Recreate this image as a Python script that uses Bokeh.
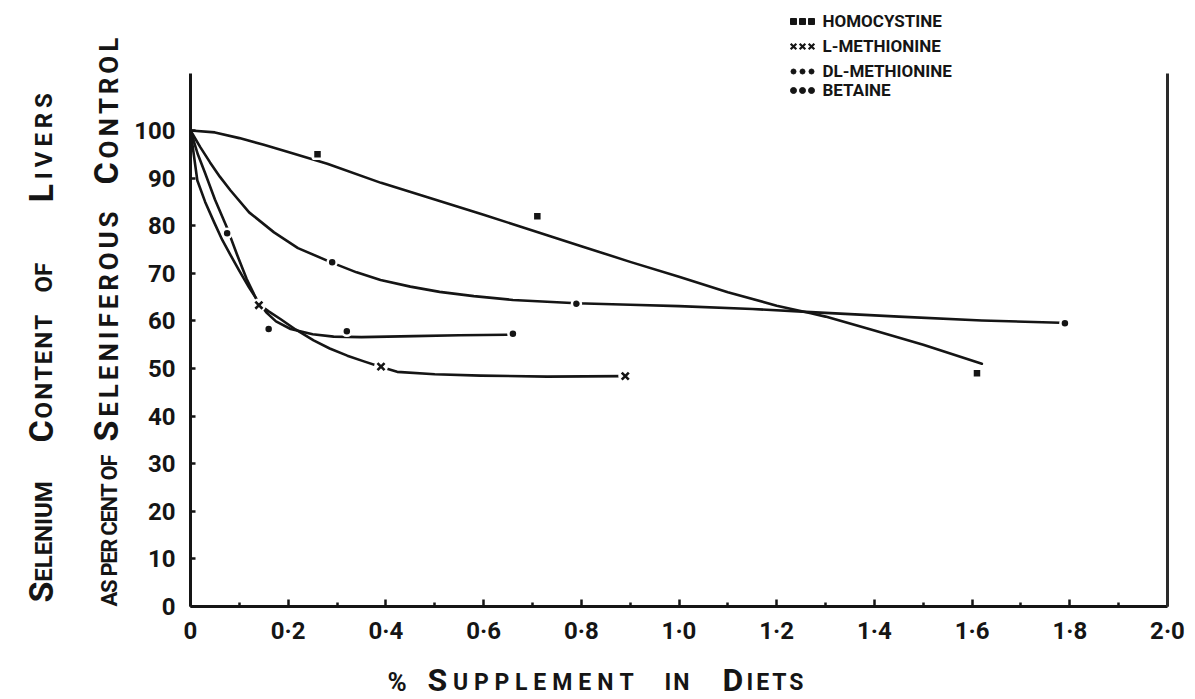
import math

from bokeh.core.properties import value
from bokeh.embed import file_html
from bokeh.models import FixedTicker, LinearAxis, Range1d
from bokeh.plotting import figure
from bokeh.resources import INLINE

# ---------------------------------------------------------------------------
# Data: % supplement in diet vs. liver selenium (% of seleniferous control)
# ---------------------------------------------------------------------------
homocystine_x = [0.26, 0.71, 1.61]
homocystine_y = [95.0, 82.0, 49.0]

l_methionine_x = [0.14, 0.39, 0.89]
l_methionine_y = [63.3, 50.4, 48.4]

dl_methionine_x = [0.075, 0.16, 0.32, 0.66]
dl_methionine_y = [78.4, 58.3, 57.8, 57.3]

betaine_x = [0.29, 0.79, 1.79]
betaine_y = [72.3, 63.6, 59.5]

# Freehand response curves, each starting from the control (100 %)
homocystine_curve_x = [0.0, 0.05, 0.10, 0.15, 0.20, 0.28, 0.39, 0.50, 0.60, 0.70, 0.80,
                       0.90, 1.00, 1.10, 1.20, 1.27, 1.30, 1.40, 1.50, 1.62]
homocystine_curve_y = [100.0, 99.6, 98.4, 97.0, 95.5, 93.0, 89.0, 85.5, 82.3, 79.0, 75.7,
                       72.4, 69.3, 66.0, 63.2, 61.6, 60.9, 58.0, 55.0, 51.0]

l_methionine_curve_x = [0.0, 0.015, 0.03, 0.05, 0.075, 0.095, 0.115, 0.14, 0.16, 0.184,
                        0.215, 0.252, 0.285, 0.321, 0.355, 0.387, 0.423, 0.50, 0.594,
                        0.73, 0.886]
l_methionine_curve_y = [100.0, 95.0, 91.0, 85.5, 79.5, 74.0, 68.8, 63.5, 62.0, 60.4,
                        58.2, 55.9, 54.2, 52.7, 51.5, 50.4, 49.3, 48.8, 48.5,
                        48.3, 48.4]

dl_methionine_curve_x = [0.0, 0.014, 0.03, 0.048, 0.065, 0.082, 0.10, 0.12, 0.137, 0.155,
                         0.175, 0.205, 0.25, 0.293, 0.35, 0.457, 0.55, 0.648]
dl_methionine_curve_y = [100.0, 89.5, 85.0, 80.8, 77.0, 73.8, 70.5, 67.0, 64.3, 61.8,
                         59.9, 58.3, 57.2, 56.7, 56.6, 56.8, 57.0, 57.1]

betaine_curve_x = [0.0, 0.02, 0.04, 0.06, 0.082, 0.12, 0.171, 0.22, 0.288, 0.34, 0.389,
                   0.45, 0.51, 0.58, 0.66, 0.79, 0.90, 1.00, 1.15, 1.28, 1.45, 1.62, 1.78]
betaine_curve_y = [100.0, 96.5, 93.3, 90.3, 87.4, 82.8, 78.6, 75.3, 72.3, 70.2, 68.6,
                   67.2, 66.1, 65.2, 64.4, 63.7, 63.4, 63.1, 62.5, 61.8, 60.9, 60.1, 59.6]

x_ticks = [0, 0.2, 0.4, 0.6, 0.8, 1.0, 1.2, 1.4, 1.6, 1.8, 2.0]
x_tick_labels = ["0", "0·2", "0·4", "0·6", "0·8", "1·0", "1·2", "1·4", "1·6", "1·8", "2·0"]
x_minor_ticks = [0.1, 0.3, 0.5, 0.7, 0.9, 1.1, 1.3, 1.5, 1.7, 1.9]
y_ticks = [0, 10, 20, 30, 40, 50, 60, 70, 80, 90, 100]

legend_names = ["HOMOCYSTINE", "L-METHIONINE", "DL-METHIONINE", "BETAINE"]

# ---------------------------------------------------------------------------
# Page geometry: the plotting frame fills the page, axes sit at x=0 / y=0
# ---------------------------------------------------------------------------
W, H = 1195, 699
ORIGIN_PX = (190, 606)     # page position of (0, 0)
PX_PER_X = 488.5           # pixels per 1 % supplement
PX_PER_Y = 4.76            # pixels per 1 % of control
X_END = 2.0
AXIS_TOP = 112
FONT = "Roboto"
INK = "#151515"


def sx(px):
    """page pixel column -> data x"""
    return (px - ORIGIN_PX[0]) / PX_PER_X


def sy(py):
    """page pixel row -> data y"""
    return (ORIGIN_PX[1] - py) / PX_PER_Y


p = figure(
    width=W, height=H,
    x_range=Range1d(sx(0), sx(W)), y_range=Range1d(sy(H), sy(0)),
    output_backend="svg", toolbar_location=None,
    min_border_left=0, min_border_right=0, min_border_top=0, min_border_bottom=0,
    background_fill_color="white", border_fill_color="white",
)
p.outline_line_color = None
p.grid.visible = False

# ---- axes ------------------------------------------------------------------
xa = p.xaxis[0]
xa.fixed_location = 0
xa.ticker = FixedTicker(ticks=x_ticks, minor_ticks=x_minor_ticks)
xa.major_label_overrides = {t: s for t, s in zip(x_ticks, x_tick_labels)}
xa.bounds = (0, X_END)
xa.axis_line_width = 3
xa.axis_line_color = INK
xa.major_tick_in = 7
xa.major_tick_out = 0
xa.major_tick_line_width = 2.5
xa.major_tick_line_color = INK
xa.minor_tick_in = 4
xa.minor_tick_out = 0
xa.minor_tick_line_width = 2.5
xa.minor_tick_line_color = INK
xa.major_label_text_font = FONT
xa.major_label_text_font_style = "bold"
xa.major_label_text_font_size = "24px"
xa.major_label_text_color = INK
xa.major_label_standoff = 10

ya = p.yaxis[0]
ya.fixed_location = 0
ya.ticker = FixedTicker(ticks=y_ticks, minor_ticks=[])
ya.bounds = (0, AXIS_TOP)
ya.axis_line_width = 3
ya.axis_line_color = INK
ya.major_tick_in = 5
ya.major_tick_out = 0
ya.major_tick_line_width = 2.5
ya.major_tick_line_color = INK
ya.minor_tick_line_color = None
ya.major_label_text_font = FONT
ya.major_label_text_font_style = "bold"
ya.major_label_text_font_size = "24px"
ya.major_label_text_color = INK
ya.major_label_standoff = 15

# plain right-hand border of the graph
ra = LinearAxis(ticker=FixedTicker(ticks=[]), bounds=(0, AXIS_TOP), fixed_location=X_END)
ra.axis_line_width = 3
ra.axis_line_color = "#2a2a2a"
ra.major_tick_line_color = None
ra.minor_tick_line_color = None
ra.major_label_text_color = None
p.add_layout(ra, "right")

# ---- curves ------------------------------------------------------------------
for cx, cy in [
    (homocystine_curve_x, homocystine_curve_y),
    (betaine_curve_x, betaine_curve_y),
    (dl_methionine_curve_x, dl_methionine_curve_y),
    (l_methionine_curve_x, l_methionine_curve_y),
]:
    p.line(cx, cy, line_color=INK, line_width=2.6, line_join="round", line_cap="round")

# ---- points: a white halo breaks the curve around each symbol ----------------
p.scatter(homocystine_x, homocystine_y, marker="square", size=9,
          fill_color=INK, line_color="white", line_width=2.5)
p.scatter(dl_methionine_x, dl_methionine_y, marker="circle", size=9,
          fill_color=INK, line_color="white", line_width=2.5)
p.scatter(betaine_x, betaine_y, marker="circle", size=9,
          fill_color=INK, line_color="white", line_width=2.5)
p.scatter(l_methionine_x, l_methionine_y, marker="circle", size=14,
          fill_color="white", line_color=None)
p.scatter(l_methionine_x, l_methionine_y, marker="x", size=10,
          line_color=INK, line_width=2.6)

# ---- key (three sample symbols + name per row) --------------------------------
key_rows_py = [20, 45, 70, 89]
key_marks = ["square", "x", "circle", "circle"]
key_sizes = [6, 8, 5, 6]
for name, row, mk, sz in zip(legend_names, key_rows_py, key_marks, key_sizes):
    xs = [sx(793), sx(802), sx(811)]
    ys = [sy(row + 1)] * 3
    if mk == "x":
        p.scatter(xs, ys, marker="x", size=sz, line_color=INK, line_width=2.2)
    else:
        p.scatter(xs, ys, marker=mk, size=sz, fill_color=INK, line_color=INK)
    p.text([sx(822)], [sy(row)], text=[name], text_font=value(FONT),
           text_font_style="bold", text_font_size="17px", text_color=INK,
           text_baseline="middle", text_align="left")

# ---- axis titles (small-capital lettering, letter by letter) -------------------
EM = {"A": 0.67, "B": 0.64, "C": 0.65, "D": 0.66, "E": 0.56, "F": 0.55, "H": 0.71,
      "I": 0.29, "L": 0.54, "M": 0.87, "N": 0.71, "O": 0.69, "P": 0.63, "R": 0.63,
      "S": 0.61, "T": 0.61, "U": 0.65, "V": 0.65, "Y": 0.61, "%": 0.74, " ": 0.25}
MID = 0.30   # distance from the em-box middle down to the baseline, in em


def lettering(pieces, start, base, vertical=False, track=0.0):
    """pieces: (text, font px) set letter by letter from `start` on baseline `base`"""
    pos = start
    for text, size in pieces:
        xs, ys = [], []
        for ch in text:
            if vertical:
                xs.append(sx(base - MID * size))
                ys.append(sy(pos))
                pos -= EM.get(ch, 0.6) * size + track
            else:
                xs.append(sx(pos))
                ys.append(sy(base - MID * size))
                pos += EM.get(ch, 0.6) * size + track
        p.text(xs, ys, text=list(text), angle=math.pi / 2 if vertical else 0.0,
               text_font=value(FONT), text_font_style="bold",
               text_font_size=f"{size}px", text_color=INK,
               text_align="left", text_baseline="middle")


# x title
lettering([("%", 26)], 387, 689)
lettering([("S", 32), ("UPPLEMENT", 23)], 427, 689, track=6)
lettering([("IN", 23)], 664, 689, track=2)
lettering([("D", 32), ("IETS", 23)], 722, 689, track=3)

# outer y title
lettering([("S", 34), ("ELENIUM", 24)], 602, 51, vertical=True)
lettering([("C", 34), ("ONTENT", 24)], 442, 51, vertical=True, track=2)
lettering([("OF", 24)], 292, 51, vertical=True)
lettering([("L", 34), ("IVERS", 24)], 202, 51, vertical=True, track=5)

# inner y title
lettering([("AS PER CENT OF", 22)], 606, 116, vertical=True, track=-1.2)
lettering([("S", 34), ("ELENIFEROUS", 26)], 441, 116, vertical=True, track=4)
lettering([("C", 34), ("ONTROL", 26)], 184, 116, vertical=True, track=4)

open("out.html", "w").write(file_html(p, INLINE))
